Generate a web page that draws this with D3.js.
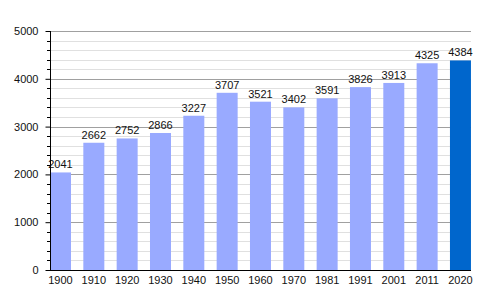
<!DOCTYPE html>
<html>
<head>
<meta charset="utf-8">
<script src="https://cdn.jsdelivr.net/npm/d3@7"></script>
<style>
  body { margin: 0; background: #fff; }
  text { font-family: "Liberation Sans", Arial, sans-serif; font-size: 11px; fill: #111; }
</style>
</head>
<body>
<div id="chart"></div>
<script>
var years = ["1900", "1910", "1920", "1930", "1940", "1950", "1960", "1970", "1981", "1991", "2001", "2011", "2020"];
var population = [2041, 2662, 2752, 2866, 3227, 3707, 3521, 3402, 3591, 3826, 3913, 4325, 4384];
var yTicks = [0, 1000, 2000, 3000, 4000, 5000];

var width = 500, height = 300;
var plotLeft = 50, plotTop = 31, plotBottom = 270, plotRight = 471;

var svg = d3.select("#chart").append("svg")
  .attr("width", width)
  .attr("height", height);

var x = d3.scaleBand()
  .domain(years)
  .range([plotLeft, plotLeft + 13 * 33.33])
  .paddingInner(0)
  .paddingOuter(0);

var barW = x.bandwidth() * 0.63;

var y = d3.scaleLinear().domain([0, 5000]).range([plotBottom, plotTop]);

var minorTicks = d3.range(0, 5001, 200).filter(function(d) { return d % 1000 != 0 });

// minor grid
svg.append("g").selectAll("line")
  .data(minorTicks)
  .enter().append("line")
  .attr("x1", plotLeft).attr("x2", plotRight)
  .attr("y1", function(d) { return Math.round(y(d)) + 0.5 })
  .attr("y2", function(d) { return Math.round(y(d)) + 0.5 })
  .attr("stroke", "#e0e0e0");

// major grid
svg.append("g").selectAll("line")
  .data(yTicks.slice(1))
  .enter().append("line")
  .attr("x1", plotLeft).attr("x2", plotRight)
  .attr("y1", function(d) { return Math.round(y(d)) + 0.5 })
  .attr("y2", function(d) { return Math.round(y(d)) + 0.5 })
  .attr("stroke", "#a0a0a0");

// bars
svg.append("g").selectAll("rect")
  .data(population)
  .enter().append("rect")
  .attr("x", function(d, i) { return x(years[i]) })
  .attr("y", function(d) { return y(d) })
  .attr("width", barW)
  .attr("height", function(d) { return y(0) - y(d) })
  .attr("fill", function(d, i) { return i == years.length - 1 ? "#0066cc" : "#99aaff" });

// value labels
svg.append("g").selectAll("text")
  .data(population)
  .enter().append("text")
  .attr("x", function(d, i) { return x(years[i]) + barW / 2 })
  .attr("y", function(d) { return y(d) - 4 })
  .attr("text-anchor", "middle")
  .text(function(d) { return d });

// y axis
var yAxis = d3.axisLeft(y).tickValues(yTicks).tickSize(5).tickPadding(7).tickFormat(d3.format("d"));
var yG = svg.append("g")
  .attr("transform", "translate(" + (plotLeft + 0.5) + ",0)")
  .call(yAxis);
yG.select(".domain").remove();
yG.attr("font-size", null).attr("font-family", null);
yG.selectAll(".tick line").attr("stroke", "#000");

svg.append("g").selectAll("line")
  .data(minorTicks)
  .enter().append("line")
  .attr("x1", plotLeft - 3).attr("x2", plotLeft)
  .attr("y1", function(d) { return Math.round(y(d)) + 0.5 })
  .attr("y2", function(d) { return Math.round(y(d)) + 0.5 })
  .attr("stroke", "#000");

svg.append("line")
  .attr("x1", plotLeft + 0.5).attr("x2", plotLeft + 0.5)
  .attr("y1", plotTop).attr("y2", plotBottom)
  .attr("stroke", "#000");

// x axis
svg.append("line")
  .attr("x1", plotLeft).attr("x2", plotRight)
  .attr("y1", plotBottom + 0.5).attr("y2", plotBottom + 0.5)
  .attr("stroke", "#000");

svg.append("g").selectAll("text")
  .data(years)
  .enter().append("text")
  .attr("x", function(d) { return x(d) + barW / 2 })
  .attr("y", plotBottom + 14)
  .attr("text-anchor", "middle")
  .text(function(d) { return d });
</script>
</body>
</html>
